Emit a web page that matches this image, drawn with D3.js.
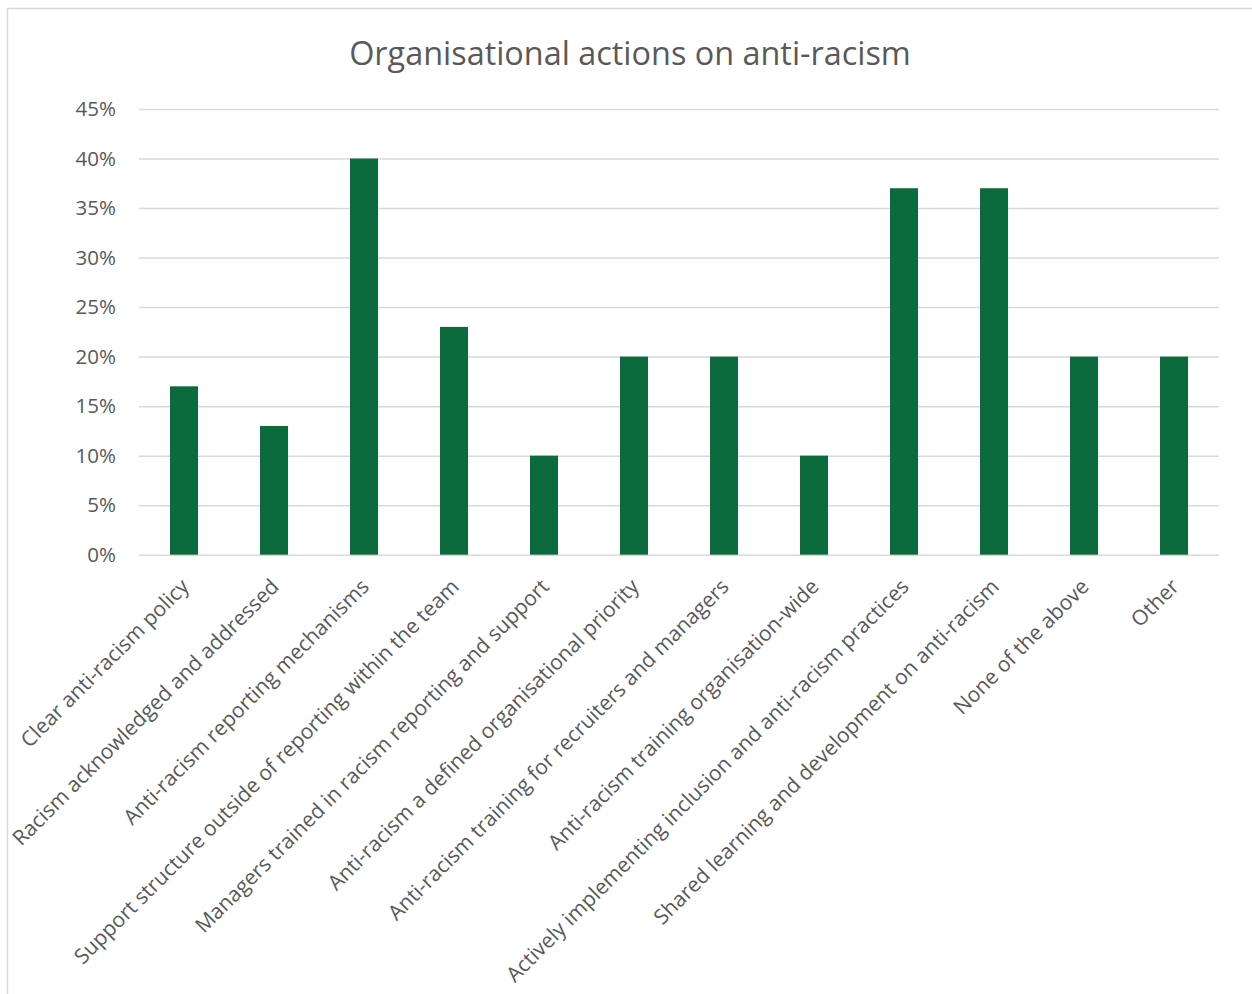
<!DOCTYPE html>
<html>
<head>
<meta charset="utf-8">
<script src="https://cdn.jsdelivr.net/npm/d3@7"></script>
<style>
  html, body { margin: 0; padding: 0; background: #ffffff; }
  svg { display: block; }
</style>
</head>
<body>
<script>
const categories = [
  "Clear anti-racism policy",
  "Racism acknowledged and addressed",
  "Anti-racism reporting mechanisms",
  "Support structure outside of reporting within the team",
  "Managers trained in racism reporting and support",
  "Anti-racism a defined organisational priority",
  "Anti-racism training for recruiters and managers",
  "Anti-racism training organisation-wide",
  "Actively implementing inclusion and anti-racism practices",
  "Shared learning and development on anti-racism",
  "None of the above",
  "Other"
];
const values = [0.17, 0.13, 0.40, 0.23, 0.10, 0.20, 0.20, 0.10, 0.37, 0.37, 0.20, 0.20];
const yTicks = [0, 0.05, 0.10, 0.15, 0.20, 0.25, 0.30, 0.35, 0.40, 0.45];
const title = "Organisational actions on anti-racism";

const W = 1252, H = 994;
const FONT = "'Open Sans', 'DejaVu Sans', sans-serif";
const TEXT = "#595959";
const GRID = "#d9d9d9";
const BAR = "#0c6b3c";

const svg = d3.select("body").append("svg")
  .attr("width", W).attr("height", H);

// outer chart border
svg.append("rect")
  .attr("x", 7.5).attr("y", 8.5)
  .attr("width", W + 20).attr("height", H + 20)
  .attr("fill", "#ffffff")
  .attr("stroke", GRID).attr("stroke-width", 1.5);

const plot = { left: 139, right: 1219, top: 109, bottom: 554.7 };

const x = d3.scaleBand().domain(categories).range([plot.left, plot.right]).padding(0);
const y = d3.scaleLinear().domain([0, 0.45]).range([plot.bottom, plot.top]);

// title
svg.append("text")
  .attr("x", 630).attr("y", 65)
  .attr("text-anchor", "middle")
  .attr("font-family", FONT).attr("font-size", 32.4)
  .attr("fill", TEXT)
  .text(title);

// gridlines + y labels via axis
const yAxis = d3.axisLeft(y)
  .tickValues(yTicks)
  .tickSize(-(plot.right - plot.left))
  .tickPadding(23)
  .tickFormat(d3.format(".0%"));

const gy = svg.append("g")
  .attr("transform", `translate(${plot.left},0)`)
  .call(yAxis);
gy.select(".domain").remove();
gy.selectAll(".tick line").attr("stroke", GRID).attr("stroke-width", 1.5);
gy.selectAll(".tick text")
  .attr("font-family", FONT).attr("font-size", 20.5)
  .attr("fill", TEXT);

// bars
const barFrac = 0.311;
const bw = x.bandwidth() * barFrac;
svg.append("g").selectAll("rect")
  .data(categories.map((c, i) => ({ c, v: values[i] })))
  .join("rect")
  .attr("x", d => x(d.c) + (x.bandwidth() - bw) / 2)
  .attr("y", d => y(d.v))
  .attr("width", bw)
  .attr("height", d => y(0) - y(d.v))
  .attr("fill", BAR);

// x axis
const xAxis = d3.axisBottom(x).tickSize(0).tickPadding(0);
const gx = svg.append("g")
  .attr("transform", `translate(0,${plot.bottom})`)
  .call(xAxis);
gx.select(".domain").remove();
gx.selectAll(".tick text")
  .attr("font-family", FONT).attr("font-size", 21)
  .attr("fill", TEXT)
  .attr("text-anchor", "end")
  .attr("dy", "0.35em")
  .attr("y", 0)
  .attr("transform", "translate(1,28) rotate(-45)");
</script>
</body>
</html>
